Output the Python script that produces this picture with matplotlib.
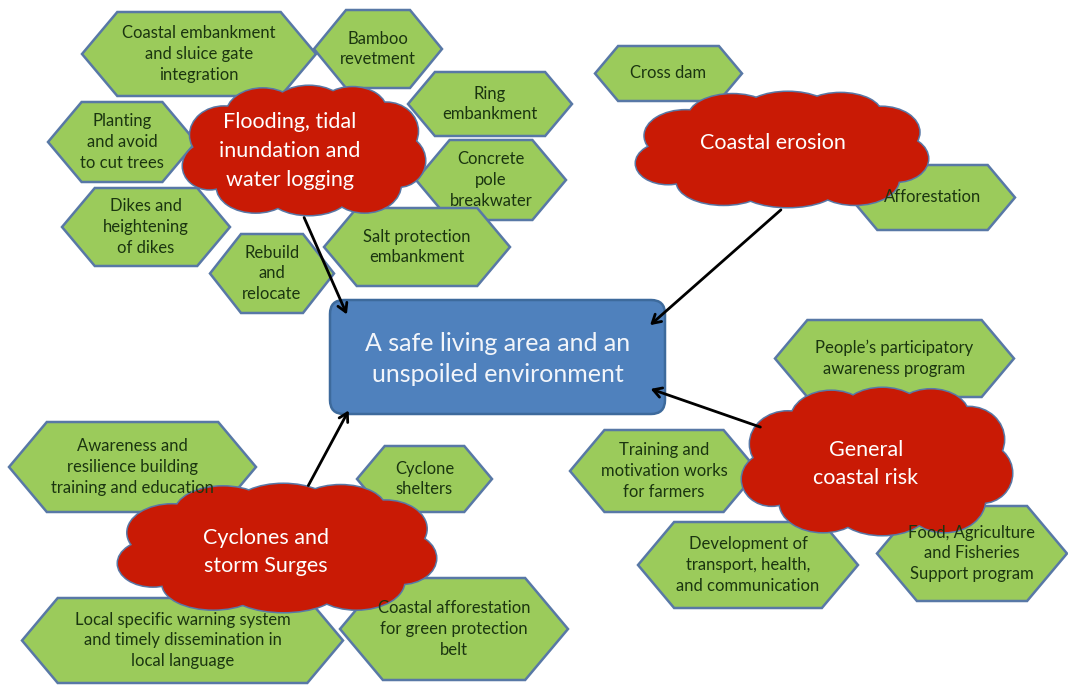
import matplotlib
matplotlib.use("Agg")
import matplotlib.pyplot as plt
from matplotlib.patches import Polygon, Ellipse, FancyBboxPatch

plt.rcParams['font.family'] = ['Lato', 'DejaVu Sans']

# textos dos hexagonos (medidas)
hex_labels = [
    "Coastal embankment\nand sluice gate\nintegration",
    "Bamboo\nrevetment",
    "Ring\nembankment",
    "Planting\nand avoid\nto cut trees",
    "Concrete\npole\nbreakwater",
    "Dikes and\nheightening\nof dikes",
    "Rebuild\nand\nrelocate",
    "Salt protection\nembankment",
    "Cross dam",
    "Afforestation",
    "People\u2019s participatory\nawareness program",
    "Training and\nmotivation works\nfor farmers",
    "Development of\ntransport, health,\nand communication",
    "Food, Agriculture\nand Fisheries\nSupport program",
    "Awareness and\nresilience building\ntraining and education",
    "Cyclone\nshelters",
    "Local specific warning system\nand timely dissemination in\nlocal language",
    "Coastal afforestation\nfor green protection\nbelt",
]

# textos das nuvens (riscos)
cloud_labels = [
    "Flooding, tidal\ninundation and\nwater logging",
    "Coastal erosion",
    "General\ncoastal risk",
    "Cyclones and\nstorm Surges",
]

center_label = "A safe living area and an\nunspoiled environment"

# layout em pixels (x0, y0, x1, y1)
hex_boxes = [
    (82, 12, 316, 96), (314, 10, 442, 88), (408, 72, 572, 136),
    (48, 102, 196, 182), (416, 140, 566, 220), (62, 188, 230, 266),
    (210, 234, 334, 313), (324, 208, 510, 286), (595, 46, 742, 101),
    (850, 165, 1015, 230), (775, 320, 1014, 397), (570, 430, 758, 512),
    (638, 522, 858, 608), (877, 506, 1067, 601), (9, 422, 256, 512),
    (357, 446, 492, 512), (22, 598, 343, 683), (340, 578, 568, 680),
]
cloud_boxes = [
    (183, 86, 425, 215), (636, 92, 928, 207),
    (742, 388, 1012, 535), (118, 484, 436, 612),
]
cloud_text_pos = [(290, 151), (773, 143), (866, 464), (266, 552)]
center_box = (330, 300, 665, 414)

# setas: (inicio, ponta)
arrows = [
    ((303, 215), (348, 317)),
    ((783, 208), (648, 327)),
    ((763, 428), (648, 388)),
    ((307, 488), (350, 408)),
]

green = "#9BCB5B"
edge = "#5878A6"
red = "#C91A05"
blue = "#4F81BD"

fig = plt.figure(figsize=(10.68, 6.86), dpi=100)
ax = fig.add_axes([0, 0, 1, 1])
ax.set_xlim(0, 1068)
ax.set_ylim(686, 0)
ax.axis("off")

# hexagonos
for lab, (x0, y0, x1, y1) in zip(hex_labels, hex_boxes):
    h = y1 - y0
    d = min(0.42 * h, 0.25 * (x1 - x0))
    yc = (y0 + y1) / 2
    pts = [(x0, yc), (x0 + d, y0), (x1 - d, y0), (x1, yc), (x1 - d, y1), (x0 + d, y1)]
    ax.add_patch(Polygon(pts, closed=True, facecolor=green, edgecolor=edge, lw=1.8, zorder=1))
    ax.text((x0 + x1) / 2, yc, lab, ha="center", va="center", fontsize=12,
            color="#1B3510", linespacing=1.38, zorder=6)

# nuvens = uniao de elipses
lobes = [
    (0.50, 0.50, 0.40, 0.34),
    (0.17, 0.38, 0.14, 0.22),
    (0.33, 0.22, 0.15, 0.20),
    (0.52, 0.17, 0.15, 0.17),
    (0.70, 0.19, 0.14, 0.18),
    (0.84, 0.35, 0.13, 0.22),
    (0.89, 0.58, 0.11, 0.20),
    (0.75, 0.76, 0.15, 0.22),
    (0.52, 0.83, 0.17, 0.17),
    (0.30, 0.78, 0.16, 0.20),
    (0.11, 0.62, 0.11, 0.18),
]

for lab, (x0, y0, x1, y1), (tx, ty) in zip(cloud_labels, cloud_boxes, cloud_text_pos):
    w = x1 - x0
    h = y1 - y0
    # contorno primeiro, depois preenchimento por cima
    for cx, cy, rx, ry in lobes:
        ax.add_patch(Ellipse((x0 + cx * w, y0 + cy * h), 2 * rx * w, 2 * ry * h,
                             facecolor=red, edgecolor=edge, lw=2.2, zorder=2))
    for cx, cy, rx, ry in lobes:
        ax.add_patch(Ellipse((x0 + cx * w, y0 + cy * h), 2 * rx * w, 2 * ry * h,
                             facecolor=red, edgecolor="none", zorder=3))
    ax.text(tx, ty, lab, ha="center", va="center", fontsize=15.5, color="white",
            linespacing=1.55, zorder=6)

# caixa central
x0, y0, x1, y1 = center_box
ax.add_patch(FancyBboxPatch((x0 + 14, y0 + 14), x1 - x0 - 28, y1 - y0 - 28,
                            boxstyle="round,pad=14", facecolor=blue, edgecolor="#3D6A9C",
                            lw=1.8, zorder=4))
ax.text((x0 + x1) / 2, (y0 + y1) / 2 + 2, center_label, ha="center", va="center",
        fontsize=18, color="#F2F5FA", linespacing=1.45, zorder=6)

for (sx, sy), (ex, ey) in arrows:
    ax.annotate("", xy=(ex, ey), xytext=(sx, sy),
                arrowprops=dict(arrowstyle="->,head_length=0.6,head_width=0.35",
                                color="black", lw=2), zorder=7)

fig.savefig("out.png", dpi=100)
